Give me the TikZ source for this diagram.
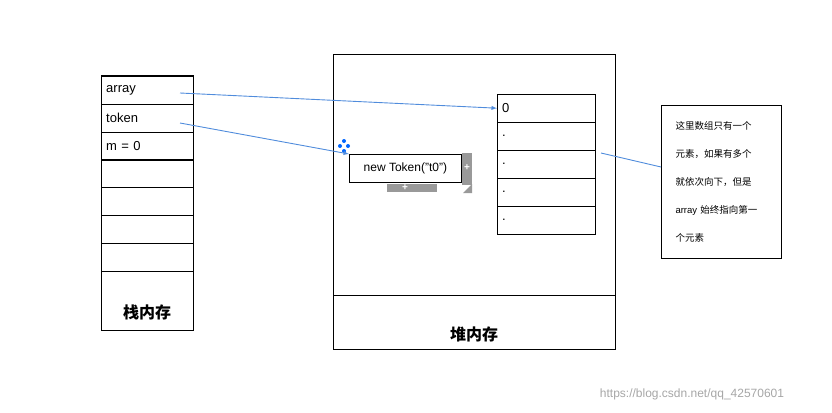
\documentclass[tikz,border=0pt]{standalone}
\usepackage{fontspec}
\setmainfont{Liberation Sans}
\newfontfamily\cjk{Noto Sans CJK SC}
\begin{document}
\begin{tikzpicture}[x=1pt,y=-1pt,
  cell/.style={draw,minimum width=92pt,minimum height=28pt,inner sep=0pt,anchor=north west,font=\fontsize{13}{15}\selectfont,text width=82pt,align=left},
  acell/.style={draw,minimum width=98pt,minimum height=28pt,inner sep=0pt,anchor=north west,font=\fontsize{13}{15}\selectfont,text width=88pt,align=left},
  conn/.style={draw={rgb,255:red,80;green,140;blue,220},line width=0.9pt,-latex},
  note/.style={font=\cjk\fontsize{9.5}{28}\selectfont,text width=108pt,align=left}]
\useasboundingbox (0,0) rectangle (832,412);
% stack
\draw (101,75) rectangle (193,330);
\node[cell] (s1) at (101,76) {array};
\node[cell] (s2) at (101,104) {token};
\node[cell] (s3) at (101,132) {m = 0};
\node[cell] (s4) at (101,159) {};
\node[cell] (s5) at (101,187) {};
\node[cell] (s6) at (101,215) {};
\node[cell] (s7) at (101,243) {};
\node[font=\cjk\bfseries\fontsize{16}{18}\selectfont] (sl) at (147,312) {栈内存};
% heap
\draw (333,54) rectangle (615,349);
\draw (333,295) -- (615,295);
\node[font=\cjk\bfseries\fontsize{16}{18}\selectfont] (hl) at (474,334) {堆内存};
\node[acell] (a0) at (497,94) {0};
\node[acell] (a1) at (497,122) {.};
\node[acell] (a2) at (497,150) {.};
\node[acell] (a3) at (497,178) {.};
\node[acell] (a4) at (497,206) {.};
% token
\node[draw,thick,minimum width=112pt,minimum height=28pt,inner sep=0pt,anchor=north west,font=\fontsize{12}{14}\selectfont] (tk) at (349,154) {new Token("t0")};
% ui handles
\fill[gray!80] (387,184) rectangle (437,192);
\node[white,font=\bfseries] (h1) at (405,188) {+};
\fill[gray!80] (462,153) rectangle (472,185);
\node[white,font=\bfseries] (h2) at (467,168) {+};
\fill[gray!80] (463,193) -- (472,184) -- (472,193) -- cycle;
\fill[blue!60!cyan] (344,141) circle (2) (340,146) circle (2) (348,146) circle (2) (344,151) circle (2);
% note
\draw (661,105) rectangle (781,258);
\node[note,anchor=north west] (nt) at (672,118) {这里数组只有一个\\元素，如果有多个\\就依次向下，但是\\\fontspec{Liberation Sans}array \cjk 始终指向第一\\个元素};
% connectors
\coordinate (c1) at (180,93);
\coordinate (c2) at (180,123);
\draw[conn] (c1) -- (a0.west);
\draw[conn] (c2) -- (tk.north west);
\coordinate (n1) at (601,153);
\draw[draw={rgb,255:red,80;green,140;blue,220},line width=0.9pt] (n1) -- (661,167) coordinate (n2);
\node[gray!70,font=\fontsize{12}{14}\selectfont] (wm) at (692,394) {https://blog.csdn.net/qq\_42570601};
\end{tikzpicture}
\end{document}
